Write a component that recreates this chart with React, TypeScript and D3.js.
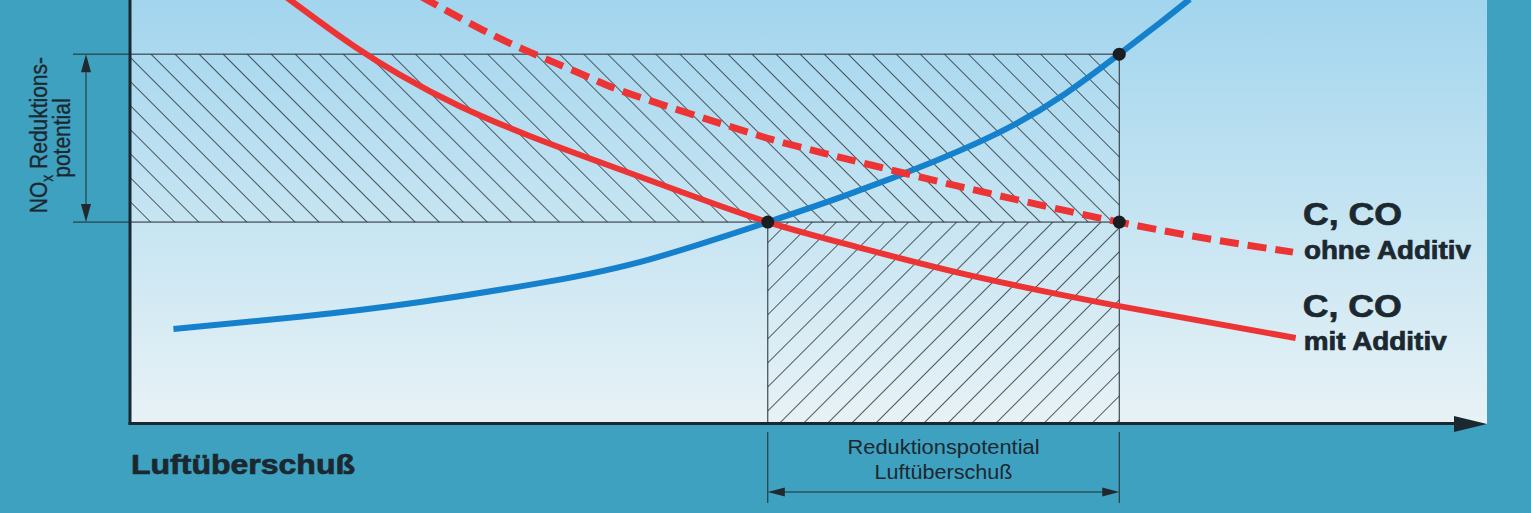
import React from "react";
import * as d3 from "d3";

// Luftüberschuß (lambda) axis values and normalised emission values (0..100)
const LAMBDA_NOX = [1.032, 1.125, 1.214, 1.306, 1.383, 1.47, 1.53, 1.593, 1.645, 1.689, 1.729, 1.759, 1.781];
const NOX = [22.2, 25.1, 28.6, 33.3, 38.7, 47.5, 54.1, 61.9, 69.4, 77.8, 87.2, 94.6, 100.2];

const LAMBDA_CO_MIT = [1.11, 1.14, 1.166, 1.199, 1.243, 1.295, 1.346, 1.405, 1.47, 1.536, 1.615, 1.728, 1.859];
const CO_MIT = [101.9, 94.8, 88.9, 82.3, 74.9, 67.8, 61.7, 54.8, 47.5, 41.6, 35.2, 27.7, 20.1];

const LAMBDA_CO_OHNE = [1.214, 1.26, 1.296, 1.339, 1.373, 1.45, 1.494, 1.57, 1.645, 1.729, 1.799, 1.857];
const CO_OHNE = [100.9, 92.9, 87.5, 81.6, 77.3, 69.3, 65.2, 59.1, 53.4, 47.5, 43.3, 40.4];

const MARK_LAMBDA = [1.47, 1.729, 1.729];
const MARK_VALUE = [47.5, 87.2, 47.5];

const LABEL_TOP = ["C, CO", "ohne Additiv"];
const LABEL_BOTTOM = ["C, CO", "mit Additiv"];
const X_TITLE = "Luftüberschuß";
const DIM_X = ["Reduktionspotential", "Luftüberschuß"];

const W = 1531;
const H = 513;
const TEAL = "#3fa1c0";
const INK = "#1c2830";

export default function App() {
  const x = d3.scaleLinear().domain([1.0, 2.0]).range([130, 1487]);
  const y = d3.scaleLinear().domain([0, 100]).range([423, 0]);
  const line = d3
    .line<[number, number]>()
    .x((d) => x(d[0]))
    .y((d) => y(d[1]))
    .curve(d3.curveNatural);

  const nox = line(LAMBDA_NOX.map((l, i) => [l, NOX[i]]))!;
  const coMit = line(LAMBDA_CO_MIT.map((l, i) => [l, CO_MIT[i]]))!;
  const coOhne = line(LAMBDA_CO_OHNE.map((l, i) => [l, CO_OHNE[i]]))!;

  const x0 = x(1.0);
  const xA = x(MARK_LAMBDA[0]);
  const xB = x(MARK_LAMBDA[1]);
  const yLow = y(MARK_VALUE[0]);
  const yHigh = y(MARK_VALUE[1]);
  const yAxis = y(0);
  const xEnd = x(2.0);

  const topEnd = x(LAMBDA_CO_OHNE[LAMBDA_CO_OHNE.length - 1]);
  const botEnd = x(LAMBDA_CO_MIT[LAMBDA_CO_MIT.length - 1]);

  const font = "'Liberation Sans', Arial, Helvetica, sans-serif";
  const yMid = (yHigh + yLow) / 2;

  return (
    <svg
      width={W}
      height={H}
      style={{ position: "fixed", left: 0, top: 0, display: "block" }}
      fontFamily={font}
    >
      <defs>
        <linearGradient id="panel" x1="0" y1="0" x2="0" y2="1">
          <stop offset="0" stopColor="#a2d5ee" />
          <stop offset="0.5" stopColor="#c5e4f2" />
          <stop offset="1" stopColor="#e8f2f6" />
        </linearGradient>
        <pattern id="hatchDown" patternUnits="userSpaceOnUse" width="17" height="17" patternTransform="rotate(-45)">
          <line x1="0.5" y1="0" x2="0.5" y2="17" stroke="#22292e" strokeWidth="1" />
        </pattern>
        <pattern id="hatchUp" patternUnits="userSpaceOnUse" width="17" height="17" patternTransform="rotate(45)">
          <line x1="0.5" y1="0" x2="0.5" y2="17" stroke="#22292e" strokeWidth="1" />
        </pattern>
        <clipPath id="plotClip">
          <rect x={x0} y={0} width={xEnd - x0} height={yAxis} />
        </clipPath>
      </defs>

      <rect x={0} y={0} width={W} height={H} fill={TEAL} />
      <rect x={x0} y={0} width={xEnd - x0} height={yAxis + 1} fill="url(#panel)" />

      {/* hatched areas */}
      <rect x={x0} y={yHigh} width={xB - x0} height={yLow - yHigh} fill="url(#hatchDown)" opacity={0.75} />
      <rect x={xA} y={yLow} width={xB - xA} height={yAxis - yLow} fill="url(#hatchUp)" opacity={0.75} />

      {/* frame and dimension lines */}
      <g stroke="#22292e" strokeWidth={1} fill="none">
        <line x1={73} y1={yHigh} x2={xB} y2={yHigh} />
        <line x1={73} y1={yLow} x2={xB} y2={yLow} />
        <line x1={xB} y1={yHigh} x2={xB} y2={yAxis} />
        <line x1={xA} y1={yLow} x2={xA} y2={yAxis} />
        <line x1={xA} y1={yAxis + 9} x2={xA} y2={503} />
        <line x1={xB} y1={yAxis + 9} x2={xB} y2={503} />
        <line x1={86} y1={yHigh + 16} x2={86} y2={yLow - 16} />
        <line x1={xA + 16} y1={492} x2={xB - 16} y2={492} />
      </g>
      <g fill="#22292e">
        <path d={`M86,${yHigh} L81,${yHigh + 18} L91,${yHigh + 18} Z`} />
        <path d={`M86,${yLow} L81,${yLow - 18} L91,${yLow - 18} Z`} />
        <path d={`M${xA},492 L${xA + 17},487.5 L${xA + 17},496.5 Z`} />
        <path d={`M${xB},492 L${xB - 17},487.5 L${xB - 17},496.5 Z`} />
      </g>

      {/* axes */}
      <line x1={x0} y1={0} x2={x0} y2={yAxis + 1.5} stroke={INK} strokeWidth={3} />
      <line x1={x0 - 1.5} y1={yAxis + 0.5} x2={xEnd - 30} y2={yAxis + 0.5} stroke={INK} strokeWidth={3} />
      <path d={`M${xEnd},${yAxis + 1} L${xEnd - 33},${yAxis - 7} L${xEnd - 33},${yAxis + 9} Z`} fill={INK} />

      {/* curves */}
      <g clipPath="url(#plotClip)" fill="none">
        <path d={nox} stroke="#1580cc" strokeWidth={6} />
        <path d={coMit} stroke="#ec3434" strokeWidth={6} />
        <path d={coOhne} stroke="#ec3434" strokeWidth={7} strokeDasharray="19 9" />
      </g>

      {MARK_LAMBDA.map((l, i) => (
        <circle key={i} cx={x(l)} cy={y(MARK_VALUE[i])} r={6.5} fill="#1b1d21" />
      ))}

      {/* series labels */}
      <g fill={INK} stroke={INK} strokeWidth={0.7} fontWeight="bold">
        <text x={topEnd + 10} y={225} fontSize={31} textLength={99} lengthAdjust="spacingAndGlyphs">{LABEL_TOP[0]}</text>
        <text x={topEnd + 11} y={259} fontSize={25} textLength={167} lengthAdjust="spacingAndGlyphs">{LABEL_TOP[1]}</text>
        <text x={botEnd + 7} y={317} fontSize={31} textLength={99} lengthAdjust="spacingAndGlyphs">{LABEL_BOTTOM[0]}</text>
        <text x={botEnd + 8} y={350} fontSize={25} textLength={143} lengthAdjust="spacingAndGlyphs">{LABEL_BOTTOM[1]}</text>
        <text x={131} y={474} fontSize={27} textLength={224} lengthAdjust="spacingAndGlyphs">{X_TITLE}</text>
      </g>

      <g fill={INK} fontSize={20} textAnchor="middle">
        <text x={(xA + xB) / 2} y={454} textLength={192} lengthAdjust="spacingAndGlyphs">{DIM_X[0]}</text>
        <text x={(xA + xB) / 2} y={479} textLength={138} lengthAdjust="spacingAndGlyphs">{DIM_X[1]}</text>
      </g>

      <g fill={INK} stroke={INK} strokeWidth={0.3} fontSize={21} textAnchor="middle">
        <text transform={`translate(47,${yMid - 3}) scale(1.15,1) rotate(-90)`}>
          <tspan>NO</tspan>
          <tspan fontSize={14} dy={5}>x</tspan>
          <tspan dy={-5}> Reduktions-</tspan>
        </text>
        <text transform={`translate(70,${yMid}) scale(1.15,1) rotate(-90)`}>potential</text>
      </g>
    </svg>
  );
}
